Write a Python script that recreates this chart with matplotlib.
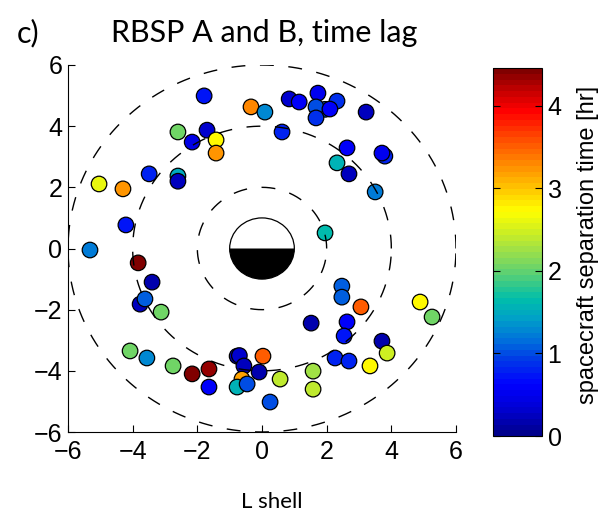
import numpy as np
import matplotlib
matplotlib.use("Agg")
import matplotlib.pyplot as plt
from matplotlib.patches import Wedge, Circle
from matplotlib.colors import LinearSegmentedColormap

# ---- data ----
x_L = [-1.79, -0.34, 0.09, -2.60, -1.70, -2.16, -1.42, -1.42, -3.49, -2.60, -2.60,
       -5.04, -4.30, -4.21, -5.32,
       0.84, 1.15, 1.73, 1.95, 1.67, 1.67, 2.32, 2.10, 3.22, 0.62, 2.63, 3.80, 3.71,
       2.32, 2.69, 3.50, 1.95,
       -3.83, -3.40, -3.77, -3.62, -3.12, -4.08, -3.56, -2.75, -2.16, -1.64, -1.64,
       -0.77, -0.70, -0.56, -0.09, 0.03, -0.62, -0.77, -0.46, 0.25,
       2.47, 2.47, 3.06, 4.89, 5.26, 1.52, 2.63, 2.54, 3.71, 3.87, 2.26, 2.69, 3.34,
       1.58, 1.58, 0.56]
y_L = [4.99, 4.63, 4.46, 3.81, 3.87, 3.48, 3.55, 3.12, 2.44, 2.37, 2.20,
       2.11, 1.95, 0.77, -0.05,
       4.89, 4.79, 5.08, 4.55, 4.63, 4.27, 4.82, 4.56, 4.46, 3.81, 3.29, 3.02, 3.12,
       2.80, 2.44, 1.85, 0.51,
       -0.47, -1.10, -1.82, -1.65, -2.08, -3.35, -3.58, -3.84, -4.10, -3.94, -4.53,
       -3.52, -3.50, -3.84, -4.04, -3.52, -4.27, -4.53, -4.43, -5.02,
       -1.23, -1.59, -1.91, -1.75, -2.24, -2.44, -2.40, -2.86, -3.03, -3.42, -3.58, -3.68, -3.84,
       -4.01, -4.60, -4.27]
lag_hr = [0.7, 3.3, 1.3, 2.05, 0.3, 0.45, 2.75, 3.25, 0.8, 1.5, 0.25,
          2.6, 3.25, 0.75, 1.25,
          0.3, 0.6, 0.55, 1.1, 1.0, 0.9, 0.85, 0.6, 0.25, 0.8, 0.6, 0.8, 0.55,
          1.6, 0.25, 1.25, 1.65,
          4.45, 0.2, 0.25, 1.05, 2.05, 2.05, 1.3, 2.05, 4.4, 4.35, 0.6,
          0.25, 0.3, 0.25, 0.2, 3.5, 3.2, 1.55, 1.0, 1.0,
          1.05, 1.05, 3.55, 2.75, 2.05, 0.2, 0.6, 0.75, 0.15, 2.45, 0.8, 0.8, 2.75,
          2.25, 2.4, 2.4]
shell_radii = [2, 4, 6]
ticks = [-6, -4, -2, 0, 2, 4, 6]
cbar_ticks = [0, 1, 2, 3, 4]
vmax = 4.46

# colour scale as it appears in the reference colorbar (value -> RGB)
cmap_vals = [0.00, 0.30, 0.60, 0.92, 1.13, 1.41, 1.65, 2.00, 2.26, 2.50, 2.73,
             3.00, 3.30, 3.65, 3.96, 4.20, 4.46]
cmap_rgb = [(0, 0, 140), (0, 0, 210), (0, 0, 255), (0, 60, 230), (0, 110, 220),
            (0, 160, 200), (0, 190, 170), (100, 210, 110), (160, 225, 70),
            (210, 240, 30), (255, 255, 0), (255, 200, 0), (255, 140, 0),
            (255, 70, 0), (255, 0, 0), (200, 0, 0), (128, 0, 0)]

tick_font = "Liberation Sans"
text_font = "Lato"

cmap = LinearSegmentedColormap.from_list(
    "refjet", [(v / vmax, tuple(c / 255 for c in rgb)) for v, rgb in zip(cmap_vals, cmap_rgb)],
    N=64)

fig = plt.figure(figsize=(6.11, 5.13), dpi=100)
ax = fig.add_axes([68/611, 1-432/513, (456-68)/611, (432-65)/513])

sc = ax.scatter(x_L, y_L, c=lag_hr, cmap=cmap, vmin=0, vmax=vmax, s=125,
                edgecolors="black", linewidths=0.9, zorder=3)

th = np.linspace(0, 2*np.pi, 600)
for r in shell_radii:
    ax.plot(r*np.cos(th), r*np.sin(th), color="black", lw=1.0,
            linestyle=(0, (10, 10.5)), zorder=4)

# Earth
ax.add_patch(Wedge((0, 0), 1, 0, 180, facecolor="white", edgecolor="none", zorder=5))
ax.add_patch(Wedge((0, 0), 1, 180, 360, facecolor="black", edgecolor="none", zorder=5))
ax.add_patch(Circle((0, 0), 1, facecolor="none", edgecolor="black", lw=0.9, zorder=6))

ax.set_xlim(-6, 6)
ax.set_ylim(-6, 6)
ax.set_xticks(ticks)
ax.set_yticks(ticks)
ax.set_xticklabels([("\u2212%d" % -t) if t < 0 else "%d" % t for t in ticks])
ax.set_yticklabels([("\u2212%d" % -t) if t < 0 else "%d" % t for t in ticks])
for s in ["top", "right"]:
    ax.spines[s].set_visible(False)
for s in ["left", "bottom"]:
    ax.spines[s].set_linewidth(0.8)
ax.tick_params(direction="in", length=5, width=0.8, labelsize=18)
ax.tick_params(axis="x", pad=6)
ax.tick_params(axis="y", pad=4)
for lab in ax.get_xticklabels() + ax.get_yticklabels():
    lab.set_fontfamily(tick_font)

# colorbar
cax = fig.add_axes([493/611, 1-436/513, (542-493)/611, (436-68)/513])
cb = fig.colorbar(sc, cax=cax, ticks=cbar_ticks)
cb.outline.set_linewidth(0.8)
cax.tick_params(direction="in", length=5, width=0.8, labelsize=18, pad=4,
                left=True, right=True)
for lab in cax.get_yticklabels():
    lab.set_fontfamily(tick_font)
fig.text(588/611, 1-245/513, "spacecraft separation time [hr]", rotation=90,
         ha="center", va="center", fontsize=17, family=tick_font)

fig.text(264/611, 1-42/513, "RBSP A and B, time lag", ha="center", va="baseline",
         fontsize=22, family=text_font)
fig.text(17/611, 1-42/513, "c)", ha="left", va="baseline", fontsize=22, family=text_font)
fig.text(272/611, 1-502/513, "L shell", ha="center", va="center", fontsize=16,
         family=text_font)

fig.savefig("out.png", dpi=100)
